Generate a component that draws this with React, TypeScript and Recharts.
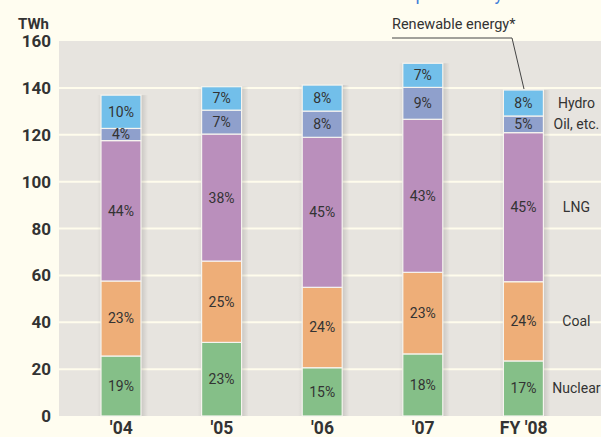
import React from "react";
import { BarChart, Bar, XAxis, YAxis, CartesianGrid, LabelList } from "recharts";

const years = ["'04", "'05", "'06", "'07", "FY '08"];
const nuclear = [25.6, 31.4, 20.6, 26.5, 23.5];
const coal = [32.0, 34.7, 34.3, 34.8, 33.8];
const lng = [59.9, 54.2, 64.0, 65.3, 63.6];
const oil = [5.2, 10.2, 11.2, 13.6, 7.1];
const hydro = [14.2, 10.0, 11.1, 10.3, 11.1];

const nuclearPct = ["19%", "23%", "15%", "18%", "17%"];
const coalPct = ["23%", "25%", "24%", "23%", "24%"];
const lngPct = ["44%", "38%", "45%", "43%", "45%"];
const oilPct = ["4%", "7%", "8%", "9%", "5%"];
const hydroPct = ["10%", "7%", "8%", "7%", "8%"];

const seriesNames = ["Nuclear", "Coal", "LNG", "Oil, etc.", "Hydro"];
const yTicks = [0, 20, 40, 60, 80, 100, 120, 140, 160];
const gridValues = [20, 40, 60, 80, 100, 120, 140];

const data = years.map((y, i) => ({
  year: y,
  nuclear: nuclear[i],
  coal: coal[i],
  lng: lng[i],
  oil: oil[i],
  hydro: hydro[i],
  nuclearPct: nuclearPct[i],
  coalPct: coalPct[i],
  lngPct: lngPct[i],
  oilPct: oilPct[i],
  hydroPct: hydroPct[i],
}));

const series = [
  { key: "nuclear", pct: "nuclearPct", color: "#85BF88", name: seriesNames[0] },
  { key: "coal", pct: "coalPct", color: "#EEAE78", name: seriesNames[1] },
  { key: "lng", pct: "lngPct", color: "#BA8FBC", name: seriesNames[2] },
  { key: "oil", pct: "oilPct", color: "#8FA0CC", name: seriesNames[3] },
  { key: "hydro", pct: "hydroPct", color: "#72BFEA", name: seriesNames[4] },
];

const FONT = "Roboto, 'Open Sans', sans-serif";
const TEXT = "#333333";

const SegShape = (props: any) => {
  const { x, y, width, height, fill } = props;
  if (height == null || width == null) return null;
  return (
    <g>
      <rect x={x - 4} y={y} width={4} height={height} fill="url(#shadowL)" />
      <rect x={x + width} y={y} width={7} height={height} fill="url(#shadowR)" />
      <rect x={x} y={y} width={width} height={height} fill={fill} stroke="#F6F4EF" strokeWidth={1.2} />
    </g>
  );
};

const makeSideLabel = (name: string) => (props: any) => {
  const { x, y, width, height, index } = props;
  if (index !== years.length - 1) return null;
  return (
    <text
      x={Number(x) + Number(width) + 33}
      y={Number(y) + Number(height) / 2}
      textAnchor="middle"
      dominantBaseline="central"
      fontFamily={FONT}
      fontSize={14}
      fill={TEXT}
    >
      {name}
    </text>
  );
};

const gridGen = (args: any) => {
  const yAxis = args && args.yAxis;
  if (yAxis && typeof yAxis.scale === "function") {
    return gridValues.map((v) => yAxis.scale(v));
  }
  const off = args.offset;
  return gridValues.map((v) => off.top + off.height * (1 - v / 160));
};

export default function App() {
  return (
    <div style={{ position: "absolute", left: 0, top: 0, width: 601, height: 437, background: "#FFFDF0", overflow: "hidden" }}>
      <BarChart
        width={601}
        height={437}
        data={data}
        margin={{ top: 41, right: 0, bottom: 0, left: 0 }}
        barSize={40}
      >
        <defs>
          <linearGradient id="shadowR" x1="0" y1="0" x2="1" y2="0">
            <stop offset="0%" stopColor="#000" stopOpacity={0.13} />
            <stop offset="100%" stopColor="#000" stopOpacity={0} />
          </linearGradient>
          <linearGradient id="shadowL" x1="1" y1="0" x2="0" y2="0">
            <stop offset="0%" stopColor="#000" stopOpacity={0.05} />
            <stop offset="100%" stopColor="#000" stopOpacity={0} />
          </linearGradient>
        </defs>
        <CartesianGrid
          fill="#E7E4DF"
          stroke="#FFFCEC"
          strokeWidth={2}
          vertical={false}
          horizontalCoordinatesGenerator={gridGen}
        />
        <XAxis
          dataKey="year"
          axisLine={false}
          tickLine={false}
          height={21}
          padding={{ left: 12, right: 27 }}
          interval={0}
          tickMargin={0}
          tick={{ fontFamily: FONT, fontSize: 17.5, fontWeight: 700, fill: TEXT }}
        />
        <YAxis
          domain={[0, 160]}
          ticks={yTicks}
          axisLine={false}
          tickLine={false}
          width={59}
          interval={0}
          tick={{ fontFamily: FONT, fontSize: 17, fontWeight: 700, fill: TEXT }}
        />
        {series.map((s) => (
          <Bar key={s.key} dataKey={s.key} stackId="a" fill={s.color} isAnimationActive={false} shape={SegShape}>
            <LabelList
              dataKey={s.pct}
              position="center"
              style={{ fontFamily: FONT, fontSize: 14, fill: TEXT }}
            />
            <LabelList dataKey={s.pct} content={makeSideLabel(s.name)} />
          </Bar>
        ))}
      </BarChart>
      <svg width={601} height={437} style={{ position: "absolute", left: 0, top: 0, pointerEvents: "none" }}>
        <text x={503} y={0} textAnchor="end" fontFamily={FONT} fontSize={18} fill="#3F7FD9">
          Composition by
        </text>
        <text x={49} y={29} textAnchor="end" fontFamily={FONT} fontSize={15} fontWeight={700} fill={TEXT}>
          TWh
        </text>
        <text x={392} y={29} fontFamily={FONT} fontSize={14.5} fill={TEXT}>
          Renewable energy*
        </text>
        <polyline points="392,38 512,38 524,89" fill="none" stroke="#444" strokeWidth={1} />
      </svg>
    </div>
  );
}
